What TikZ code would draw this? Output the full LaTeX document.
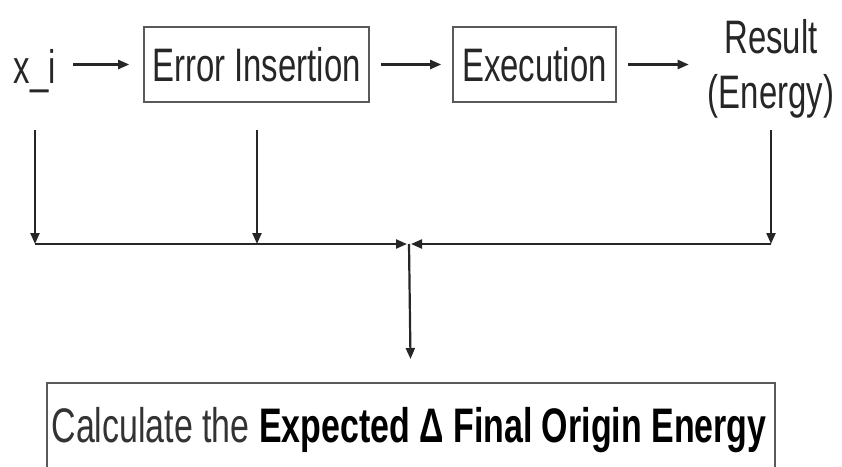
\documentclass[tikz,border=0pt]{standalone}
\usepackage{fontspec}
\setmainfont[FakeStretch=0.7]{Liberation Sans}
\usetikzlibrary{arrows.meta}
\begin{document}
\begin{tikzpicture}[x=1pt,y=-1pt,
  lbl/.style={font=\fontsize{47}{55}\selectfont, text=black!85, inner sep=0pt},
  stage/.style={lbl, draw=black!65, line width=1.6pt, minimum height=75pt},
  link/.style={draw=black!85, line width=2.2pt, -{Triangle[length=11pt,width=9pt]}}]
\clip (0,0) rectangle (842,466);

% pipeline row
\node[lbl, anchor=base] (xi) at (35,83) {x\_i};
\node[stage, minimum width=225pt] (err) at (256.5,64.5) {Error Insertion};
\node[stage, minimum width=163pt] (exe) at (534.5,64.5) {Execution};
\node[lbl, align=center, anchor=base] (res) at (771,108) {Result\\(Energy)};

\draw[link, shorten <=17pt, shorten >=14pt] (xi.east |- err.west) -- (err.west);
\draw[link, shorten <=11pt, shorten >=11pt] (err.east) -- (exe.west);
\draw[link, shorten <=11pt, shorten >=19pt] (exe.east) -- (exe.east -| res.west);

% taps down to the collecting line
\coordinate (xiTop) at (35,130);
\coordinate (xiBus) at (35,244);
\coordinate (errTop) at (257,130);
\coordinate (errBus) at (257,244);
\coordinate (resTop) at (771,130);
\coordinate (resBus) at (771,244);
\coordinate (busL) at (407,244);
\coordinate (busR) at (411,244);
\coordinate (bus) at (409,244);

\draw[link] (xiTop) -- (xiBus);
\draw[link] (errTop) -- (errBus);
\draw[link] (resTop) -- (resBus);
\draw[link] (xiBus) -- (busL);
\draw[link] (resBus) -- (busR);

% result box
\node[draw=black!65, line width=1.6pt, anchor=north west, minimum width=728pt,
      minimum height=140pt, inner sep=0pt] (calc) at (46,382) {};
\node[anchor=base, inner sep=0pt, font=\fontsize{48.5}{58}\selectfont, text=black!80]
  (calctxt) at (409,442) {Calculate the \textcolor{black}{\textbf{Expected Δ Final Origin Energy}}};

\draw[link, shorten >=23pt] (bus) -- (calc.north);
\end{tikzpicture}
\end{document}
